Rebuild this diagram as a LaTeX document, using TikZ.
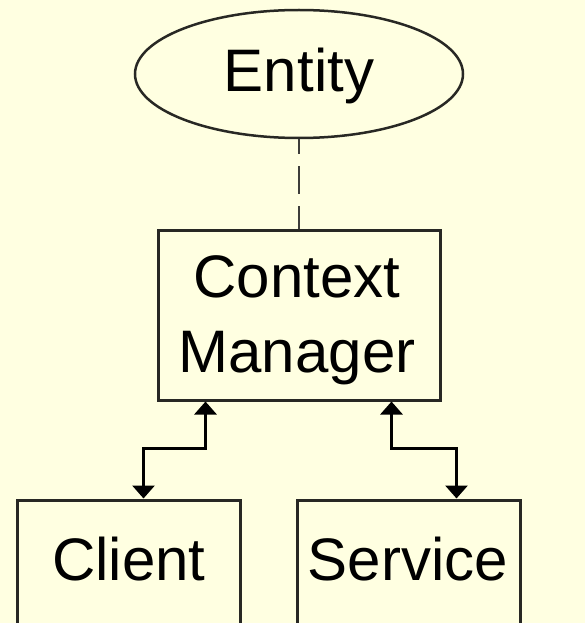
\documentclass[tikz,border=0pt]{standalone}
\usepackage{fontspec}
\setmainfont{Liberation Sans}
\usetikzlibrary{shapes.geometric,arrows.meta}
\definecolor{bgyellow}{RGB}{255,255,225}
\definecolor{edge}{RGB}{40,40,36}
\tikzset{
  shapebox/.style={draw=edge, line width=3pt, rectangle, inner sep=0pt},
  shapeoval/.style={draw=edge, line width=2.5pt, ellipse, inner sep=0pt},
  lbl/.style={anchor=base, inner sep=0pt, font=\fontsize{60}{75}\selectfont},
  link/.style={draw=black, line width=3pt, {Triangle[width=22pt,length=13pt]}-{Triangle[width=22pt,length=13pt]}},
  tie/.style={draw=edge!90, line width=2.5pt, dash pattern=on 28pt off 12pt, dash phase=13pt}
}
\begin{document}
\begin{tikzpicture}[x=1pt,y=-1pt]
  \fill[bgyellow] (0,0) rectangle (585,623);
  \useasboundingbox (0,0) rectangle (585,623);
  \clip (0,0) rectangle (585,623);
  % shapes
  \node[shapeoval, minimum width=328pt, minimum height=128pt] (entity) at (299,74) {};
  \node[shapebox, minimum width=282pt, minimum height=170pt] (cm) at (299,315) {};
  \node[shapebox, minimum width=223pt, minimum height=200pt] (client) at (128.5,600) {};
  \node[shapebox, minimum width=223pt, minimum height=200pt] (service) at (408.5,600) {};
  % texts
  \node[lbl] (tentity) at (299,92) {Entity};
  \node[lbl] (tcm1) at (297,297) {Context};
  \node[lbl] (tcm2) at (297,372) {Manager};
  \node[lbl] (tclient) at (129,580) {Client};
  \node[lbl] (tservice) at (408,580) {Service};
  % connectors
  \draw[tie] (entity.south) -- (cm.north);
  \coordinate (la) at ([xshift=49pt]cm.south west);
  \coordinate (lb) at ([xshift=128pt]client.north west);
  \coordinate (ra) at ([xshift=235pt]cm.south west);
  \coordinate (rb) at ([xshift=161pt]service.north west);
  \draw[link] (la) -- ++(0,47) -| (lb);
  \draw[link] (ra) -- ++(0,47) -| (rb);
\end{tikzpicture}
\end{document}
